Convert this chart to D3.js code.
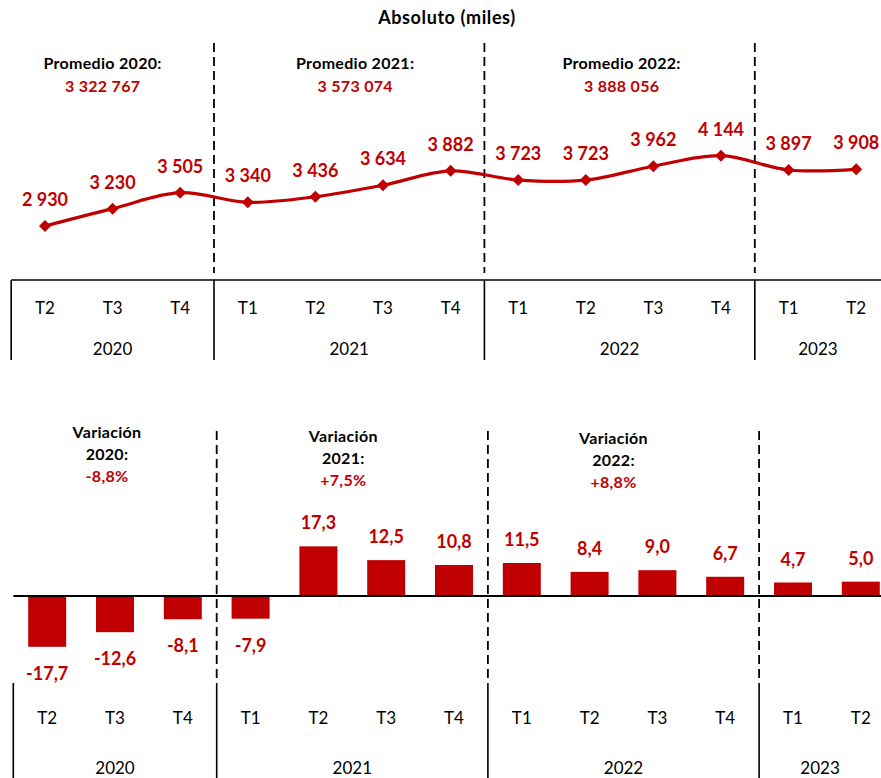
<!DOCTYPE html>
<html>
<head>
<meta charset="utf-8">
<script src="https://cdn.jsdelivr.net/npm/d3@7"></script>
<style>
  html, body { margin: 0; padding: 0; background: #fff; }
  svg { display: block; }
  text { font-family: Lato, "Open Sans", sans-serif; }
</style>
</head>
<body>
<svg id="chart" width="881" height="778"></svg>
<script>
// ---------- DATA ----------
const quarters = ["T2","T3","T4","T1","T2","T3","T4","T1","T2","T3","T4","T1","T2"];
const yearLabels = ["2020","2021","2022","2023"];
const yearCounts = [3, 4, 4, 2];
const absolute = [2930, 3230, 3505, 3340, 3436, 3634, 3882, 3723, 3723, 3962, 4144, 3897, 3908];
const variation = [-17.7, -12.6, -8.1, -7.9, 17.3, 12.5, 10.8, 11.5, 8.4, 9.0, 6.7, 4.7, 5.0];
const promedioTitles = ["Promedio 2020:", "Promedio 2021:", "Promedio 2022:"];
const promedioValues = ["3 322 767", "3 573 074", "3 888 056"];
const variacionYears = ["2020:", "2021:", "2022:"];
const variacionValues = ["-8,8%", "+7,5%", "+8,8%"];
const chartTitle = "Absoluto (miles)";

// ---------- SETUP ----------
const RED = "#C00000";
const svg = d3.select("#chart");
const loc = d3.formatLocale({decimal: ",", thousands: " ", grouping: [3], currency: ["", ""], minus: "-"});
const fmtAbs = loc.format(",d");
const fmtVar = loc.format(".1f");
const idx = d3.range(quarters.length);

// group boundaries (index of first item of each group)
const starts = [];
yearCounts.reduce((acc, n) => { starts.push(acc); return acc + n; }, 0);

function drawAxis(x, yTop, qY, yearY, bottom) {
  const g = svg.append("g");
  g.selectAll("text.q").data(idx).join("text")
    .attr("x", i => x(i) + x.bandwidth() / 2)
    .attr("y", qY)
    .attr("text-anchor", "middle")
    .attr("font-size", 17)
    .attr("fill", "#000")
    .text(i => quarters[i]);
  g.selectAll("text.y").data(yearLabels).join("text")
    .attr("x", (d, k) => {
      const a = x(starts[k]);
      const b = x(starts[k] + yearCounts[k] - 1) + x.bandwidth();
      return (a + Math.min(b, 881)) / 2;
    })
    .attr("y", yearY)
    .attr("text-anchor", "middle")
    .attr("font-size", 17)
    .attr("fill", "#000")
    .text(d => d);
  g.selectAll("line.sep").data(starts).join("line")
    .attr("x1", s => x(s)).attr("x2", s => x(s))
    .attr("y1", yTop).attr("y2", bottom)
    .attr("stroke", "#000").attr("stroke-width", 1.6);
}

function drawDashed(x, y1, y2) {
  svg.append("g").selectAll("line").data(starts.slice(1)).join("line")
    .attr("x1", s => x(s)).attr("x2", s => x(s))
    .attr("y1", y1).attr("y2", y2)
    .attr("stroke", "#000").attr("stroke-width", 1.8)
    .attr("stroke-dasharray", "9,5");
}

// ---------- TOP CHART ----------
const xTop = d3.scaleBand().domain(idx).range([11.2, 11.2 + 67.6 * 13]).padding(0);
const yTop = d3.scaleLinear().domain([2000, 4500]).range([280, 135]);

svg.append("text")
  .attr("x", 447).attr("y", 24)
  .attr("text-anchor", "middle")
  .attr("font-size", 18).attr("font-weight", "bold")
  .attr("letter-spacing", 0.6)
  .text(chartTitle);

drawDashed(xTop, 43, 273);

svg.append("line")
  .attr("x1", xTop(0)).attr("x2", 881)
  .attr("y1", yTop(2000)).attr("y2", yTop(2000))
  .attr("stroke", "#000").attr("stroke-width", 1.6);
drawAxis(xTop, yTop(2000), 314, 355, 360);

const topOffsets = [-10, 6, 2];
promedioTitles.forEach((t, k) => {
  const a = xTop(starts[k]);
  const b = xTop(starts[k] + yearCounts[k] - 1) + xTop.bandwidth();
  const cx = (a + b) / 2 + topOffsets[k];
  svg.append("text").attr("x", cx).attr("y", 69)
    .attr("text-anchor", "middle").attr("font-size", 16).attr("font-weight", "bold")
    .attr("letter-spacing", 0.3)
    .attr("fill", "#000").text(t);
  svg.append("text").attr("x", cx).attr("y", 92)
    .attr("text-anchor", "middle").attr("font-size", 16).attr("font-weight", "bold")
    .attr("letter-spacing", 0.3)
    .attr("fill", RED).text(promedioValues[k]);
});

const cxTop = i => xTop(i) + xTop.bandwidth() / 2;
const line = d3.line().x(i => cxTop(i)).y(i => yTop(absolute[i])).curve(d3.curveCatmullRom.alpha(0.5));
svg.append("path")
  .attr("d", line(idx))
  .attr("fill", "none").attr("stroke", RED).attr("stroke-width", 3.2);

svg.append("g").selectAll("path").data(idx).join("path")
  .attr("d", d3.symbol().type(d3.symbolSquare).size(72)())
  .attr("transform", i => `translate(${cxTop(i)},${yTop(absolute[i])}) rotate(45)`)
  .attr("fill", RED);

svg.append("g").selectAll("text").data(idx).join("text")
  .attr("x", i => cxTop(i))
  .attr("y", i => yTop(absolute[i]) - 20)
  .attr("text-anchor", "middle")
  .attr("font-size", 18).attr("font-weight", "bold")
  .attr("fill", RED)
  .text(i => fmtAbs(absolute[i]));

// ---------- BOTTOM CHART ----------
const xBot = d3.scaleBand().domain(idx).range([13.3, 13.3 + 67.8 * 13]).padding(0);
const yBot = d3.scaleLinear().domain([-20, 20]).range([596 + 57.4, 596 - 57.4]);

drawDashed(xBot, 431, 680);

const barW = 38;
svg.append("g").selectAll("rect").data(idx).join("rect")
  .attr("x", i => xBot(i) + xBot.bandwidth() / 2 - barW / 2)
  .attr("width", barW)
  .attr("y", i => Math.min(yBot(variation[i]), yBot(0)))
  .attr("height", i => Math.abs(yBot(variation[i]) - yBot(0)))
  .attr("fill", RED);

svg.append("line")
  .attr("x1", xBot(0)).attr("x2", 881)
  .attr("y1", yBot(0)).attr("y2", yBot(0))
  .attr("stroke", "#000").attr("stroke-width", 2);

svg.append("g").selectAll("text").data(idx).join("text")
  .attr("x", i => xBot(i) + xBot.bandwidth() / 2)
  .attr("y", i => variation[i] >= 0 ? yBot(variation[i]) - 17 : yBot(variation[i]) + 33)
  .attr("text-anchor", "middle")
  .attr("font-size", 18).attr("font-weight", "bold")
  .attr("fill", RED)
  .text(i => fmtVar(variation[i]));

const botOffsets = [-8, -9, -10];
variacionYears.forEach((t, k) => {
  const a = xBot(starts[k]);
  const b = xBot(starts[k] + yearCounts[k] - 1) + xBot.bandwidth();
  const cx = (a + b) / 2 + botOffsets[k];
  const base = [438, 442, 444][k];
  svg.append("text").attr("x", cx).attr("y", base)
    .attr("text-anchor", "middle").attr("font-size", 16).attr("font-weight", "bold")
    .attr("letter-spacing", 0.3)
    .attr("fill", "#000").text("Variación");
  svg.append("text").attr("x", cx).attr("y", base + 22)
    .attr("text-anchor", "middle").attr("font-size", 16).attr("font-weight", "bold")
    .attr("letter-spacing", 0.3)
    .attr("fill", "#000").text(t);
  svg.append("text").attr("x", cx).attr("y", base + 44)
    .attr("text-anchor", "middle").attr("font-size", 16).attr("font-weight", "bold")
    .attr("letter-spacing", 0.3)
    .attr("fill", RED).text(variacionValues[k]);
});

drawAxis(xBot, 683, 724, 774, 778);
</script>
</body>
</html>
